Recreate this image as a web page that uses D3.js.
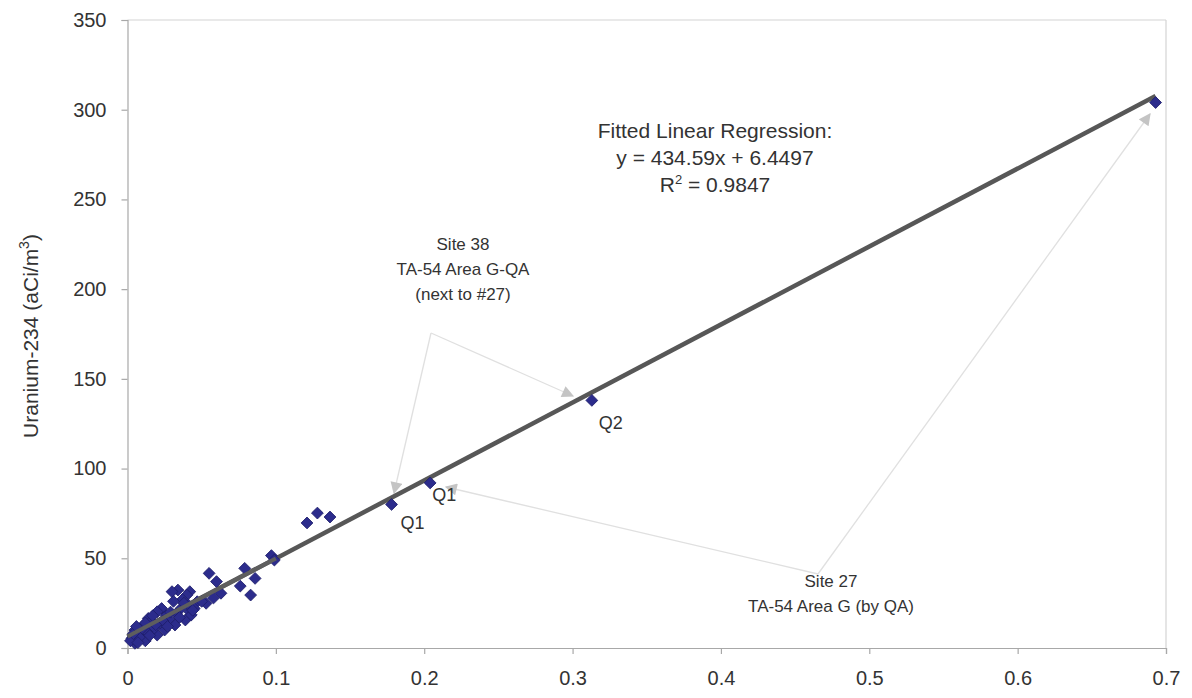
<!DOCTYPE html>
<html>
<head>
<meta charset="utf-8">
<script src="https://cdn.jsdelivr.net/npm/d3@7"></script>
<style>
  html, body { margin: 0; padding: 0; background: #fff; }
  svg { display: block; font-family: "Liberation Sans", Arial, sans-serif; }
</style>
</head>
<body>
<svg id="chart" width="1192" height="698"></svg>
<script>
// measured values (x = uranium-238 or total U, y = Uranium-234, aCi/m3)
var xVals = [0.693, 0.313, 0.178, 0.204, 0.121, 0.128, 0.1365, 0.097, 0.099,
  0.055, 0.060, 0.079, 0.086, 0.076, 0.083, 0.063, 0.058, 0.053, 0.047, 0.042, 0.042,
  0.034, 0.030, 0.040, 0.041, 0.037, 0.023, 0.020, 0.026, 0.031, 0.014, 0.011, 0.016,
  0.005, 0.003, 0.005, 0.009, 0.012, 0.020, 0.025, 0.032, 0.039, 0.043, 0.036, 0.028,
  0.018, 0.008, 0.013, 0.002, 0.007, 0.022, 0.045, 0.050, 0.033, 0.010,
  0.004, 0.006, 0.015, 0.017, 0.024, 0.027, 0.029, 0.035, 0.038, 0.044, 0.019, 0.012]
var yVals = [304, 138, 80, 92, 69.7, 75.2, 73, 51.5, 49,
  41.6, 37, 44.4, 38.8, 34.5, 29.5, 30.5, 27.9, 24.9, 25.8, 31.4, 20.2,
  32.3, 31.4, 29.5, 24, 27, 22, 20.2, 18, 26, 16.5, 12.8, 15,
  10, 5.4, 2.6, 8, 4, 7.2, 10, 12.8, 15.6, 18.4, 22, 16,
  11, 6, 9, 4, 3, 14, 22, 26, 19, 11,
  8, 12, 7, 18, 15, 12, 20, 17, 25, 21, 13, 14]
var pointLabels = [
  { text: 'Q1', x: 0.178, y: 80, dx: 9, dy: 25 },
  { text: 'Q1', x: 0.204, y: 92, dx: 2, dy: 18 },
  { text: 'Q2', x: 0.313, y: 138, dx: 7, dy: 29 }
]
var fitSlope = 434.59
var fitIntercept = 6.4497
var xTicks = [0, 0.1, 0.2, 0.3, 0.4, 0.5, 0.6, 0.7]
var yTicks = [0, 50, 100, 150, 200, 250, 300, 350]

var margin = { left: 127.5, right: 26, top: 20, bottom: 50 }
var width = 1192, height = 698
var svg = d3.select('#chart')

var x = d3.scaleLinear().domain([0, 0.7]).range([margin.left, width - margin.right])
var y = d3.scaleLinear().domain([0, 350]).range([height - margin.bottom, margin.top])

// plot frame (top / right lines are faint)
svg.append('line')
  .attr('x1', x(0)).attr('x2', x(0.7)).attr('y1', y(350)).attr('y2', y(350))
  .attr('stroke', '#d4d4d4').attr('stroke-width', 1.2)
svg.append('line')
  .attr('x1', x(0.7)).attr('x2', x(0.7)).attr('y1', y(350)).attr('y2', y(0))
  .attr('stroke', '#d4d4d4').attr('stroke-width', 1.2)

var xAxis = svg.append('g')
  .attr('transform', 'translate(0,' + y(0) + ')')
  .call(d3.axisBottom(x).tickValues(xTicks).tickSize(6).tickPadding(17)
    .tickFormat(function (d) { return d === 0 ? '0' : d3.format('.1f')(d) }))
var yAxis = svg.append('g')
  .attr('transform', 'translate(' + x(0) + ',0)')
  .call(d3.axisLeft(y).tickValues(yTicks).tickSize(6).tickPadding(15))

;[xAxis, yAxis].forEach(function (g) {
  g.select('.domain').attr('stroke', '#a8a8a8').attr('stroke-width', 1.2)
  g.selectAll('.tick line').attr('stroke', '#a8a8a8').attr('stroke-width', 1.2)
  g.selectAll('.tick text').attr('fill', '#333').style('font-size', '20px')
    .style('font-family', '"Liberation Sans", Arial, sans-serif')
})

svg.append('text')
  .attr('transform', 'translate(38,' + ((y(0) + y(350)) / 2 + 2) + ') rotate(-90)')
  .attr('text-anchor', 'middle')
  .attr('fill', '#333')
  .style('font-size', '21px')
  .html('Uranium-234 (aCi/m<tspan dy="-9" font-size="14">3</tspan><tspan dy="9">)</tspan>')

// annotation arrows
var defs = svg.append('defs')
defs.append('marker')
  .attr('id', 'arrow')
  .attr('viewBox', '0 0 10 10')
  .attr('refX', 9).attr('refY', 5)
  .attr('markerWidth', 14).attr('markerHeight', 12)
  .attr('markerUnits', 'userSpaceOnUse')
  .attr('orient', 'auto')
  .append('path').attr('d', 'M0,0L10,5L0,10Z').attr('fill', '#c4c4c4')

var arrows = [
  [[431, 333], [573, 396]],
  [[431, 333], [394, 493]],
  [[818, 574], [446, 487]],
  [[818, 574], [1150, 114]]
]
svg.append('g').selectAll('line').data(arrows).enter().append('line')
  .attr('x1', function (d) { return d[0][0] }).attr('y1', function (d) { return d[0][1] })
  .attr('x2', function (d) { return d[1][0] }).attr('y2', function (d) { return d[1][1] })
  .attr('stroke', '#e0e0e0').attr('stroke-width', 1.3)
  .attr('marker-end', 'url(#arrow)')

// fitted regression line
svg.append('line')
  .attr('x1', x(0)).attr('y1', y(fitIntercept))
  .attr('x2', x(0.693)).attr('y2', y(fitSlope * 0.693 + fitIntercept))
  .attr('stroke', '#575757').attr('stroke-width', 4.5)

// data points (diamonds)
var diamond = d3.symbol().type(d3.symbolSquare).size(70)
svg.append('g').selectAll('path')
  .data(d3.zip(xVals, yVals))
  .enter().append('path')
  .attr('d', diamond)
  .attr('transform', function (d) { return 'translate(' + x(d[0]) + ',' + y(d[1]) + ') rotate(45)' })
  .attr('fill', '#2c2c8c')
  .attr('stroke', '#1d1d6a')
  .attr('stroke-width', 0.8)

// fit line shows through the dense cluster in the reference
svg.append('line')
  .attr('x1', x(0)).attr('y1', y(fitIntercept))
  .attr('x2', x(0.1)).attr('y2', y(fitSlope * 0.1 + fitIntercept))
  .attr('stroke', '#5e5e5e').attr('stroke-width', 4)

svg.append('g').selectAll('text')
  .data(pointLabels).enter().append('text')
  .attr('x', function (d) { return x(d.x) + d.dx }).attr('y', function (d) { return y(d.y) + d.dy })
  .attr('fill', '#333').style('font-size', '18px')
  .text(function (d) { return d.text })

function block (lines, cx, cy, lh, size) {
  var t = svg.append('text').attr('text-anchor', 'middle').attr('fill', '#333')
    .style('font-size', size + 'px')
  lines.forEach(function (l, i) {
    t.append('tspan').attr('x', cx).attr('y', cy + i * lh).html(l)
  })
}

block(['Fitted Linear Regression:', 'y = 434.59x + 6.4497',
  'R<tspan dy="-8" font-size="13">2</tspan><tspan dy="8"> = 0.9847</tspan>'], 715, 138, 27, 21)
block(['Site 38', 'TA-54 Area G-QA', '(next to #27)'], 463, 250, 25, 17)
block(['Site 27', 'TA-54 Area G (by QA)'], 831, 587, 25, 17)
</script>
</body>
</html>
